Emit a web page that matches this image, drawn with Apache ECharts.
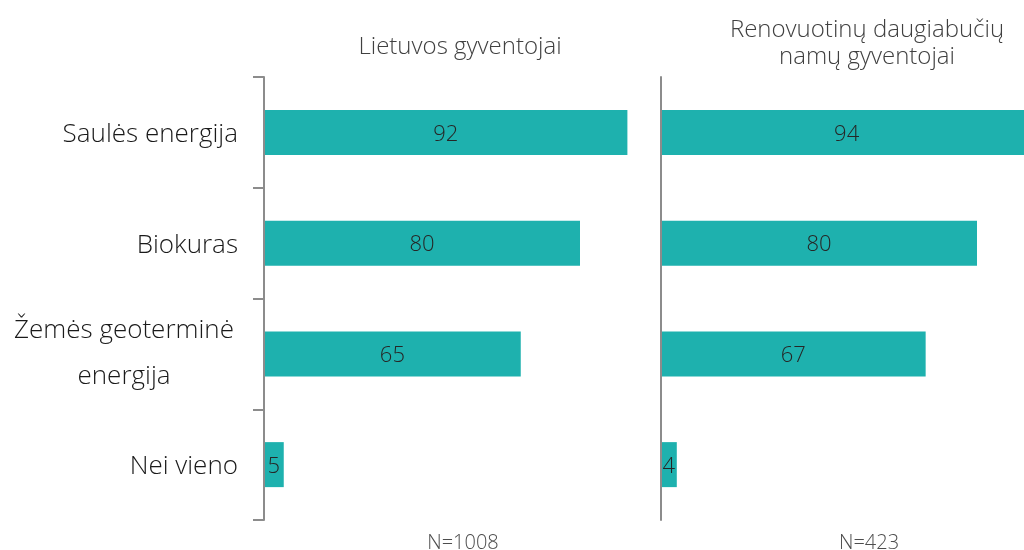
<!DOCTYPE html>
<html><head><meta charset="utf-8">
<script src="https://cdn.jsdelivr.net/npm/echarts@6/dist/echarts.min.js"></script>
<style>html,body{margin:0;padding:0;background:#fff}#c{width:1024px;height:550px}</style>
</head><body><div id="c"></div>
<script>
const categories = ['Saulės energija', 'Biokuras', 'Žemės geoterminė\nenergija', 'Nei vieno'];
const panelTitles = ['Lietuvos gyventojai', 'Renovuotinų daugiabučių\nnamų gyventojai'];
const valuesLietuva = [92, 80, 65, 5];
const valuesRenov = [94, 80, 67, 4];
const sampleSizes = ['N=1008', 'N=423'];

const FONT = '"Open Sans", "Noto Sans", sans-serif';
const BAR = '#1eb1ae';
const AXIS = '#8c8c8c';
const CAT_SIZE = 26;

const chart = echarts.init(document.getElementById('c'), null, {renderer: 'canvas'});
const grids = [
  {left: 264, top: 77, width: 395, height: 443, outerBoundsMode: 'none'},
  {left: 661, top: 77, width: 395, height: 443, outerBoundsMode: 'none'}
];
const titleCenters = [455, 862];
const nCenters = [458, 864];

chart.setOption({
  animation: false,
  title: [
    {text: panelTitles[0], left: titleCenters[0], top: 29, textAlign: 'center',
     textStyle: {fontFamily: FONT, fontWeight: 300, fontSize: 24, color: '#404040', lineHeight: 27}},
    {text: panelTitles[1], left: titleCenters[1], top: 12, textAlign: 'center',
     textStyle: {fontFamily: FONT, fontWeight: 300, fontSize: 24, color: '#404040', lineHeight: 27}},
    {text: sampleSizes[0], left: nCenters[0], top: 528, textAlign: 'center',
     textStyle: {fontFamily: FONT, fontWeight: 300, fontSize: 20, color: '#4d4d4d'}},
    {text: sampleSizes[1], left: nCenters[1], top: 528, textAlign: 'center',
     textStyle: {fontFamily: FONT, fontWeight: 300, fontSize: 20, color: '#4d4d4d'}}
  ],
  grid: grids,
  xAxis: [
    {type: 'value', gridIndex: 0, min: 0, max: 100, show: false},
    {type: 'value', gridIndex: 1, min: 0, max: 100, show: false}
  ],
  yAxis: [
    {type: 'category', gridIndex: 0, data: categories, inverse: true,
     axisLine: {show: true, lineStyle: {color: AXIS, width: 2}},
     axisTick: {show: true, length: 11, lineStyle: {color: AXIS, width: 2}},
     axisLabel: {margin: 26, fontFamily: FONT, fontWeight: 300, fontSize: CAT_SIZE, color: '#1a1a1a', align: 'right',
       formatter: v => v.indexOf('\n') >= 0
         ? v.split('\n').map(l => '{c|' + l + '}').join('\n')
         : '{r|' + v + '}',
       rich: {
         r: {fontFamily: FONT, fontWeight: 300, fontSize: CAT_SIZE, color: '#1a1a1a', align: 'right', padding: [4, 0, 0, 0]},
         c: {fontFamily: FONT, fontWeight: 300, fontSize: CAT_SIZE, color: '#1a1a1a', width: 228, align: 'center', lineHeight: 46}
       }},
     z: 3},
    {type: 'category', gridIndex: 1, data: categories, inverse: true,
     axisLine: {show: true, lineStyle: {color: AXIS, width: 2}},
     axisTick: {show: false}, axisLabel: {show: false}, z: 3}
  ],
  series: [
    {type: 'bar', xAxisIndex: 0, yAxisIndex: 0, data: valuesLietuva, barWidth: 45,
     itemStyle: {color: BAR},
     label: {show: true, position: 'inside', offset: [0, 2], fontFamily: FONT, fontWeight: 300, fontSize: 22, color: '#262626'}},
    {type: 'bar', xAxisIndex: 1, yAxisIndex: 1, data: valuesRenov, barWidth: 45,
     itemStyle: {color: BAR},
     label: {show: true, position: 'inside', offset: [0, 2], fontFamily: FONT, fontWeight: 300, fontSize: 22, color: '#262626'}}
  ]
});
</script></body></html>
